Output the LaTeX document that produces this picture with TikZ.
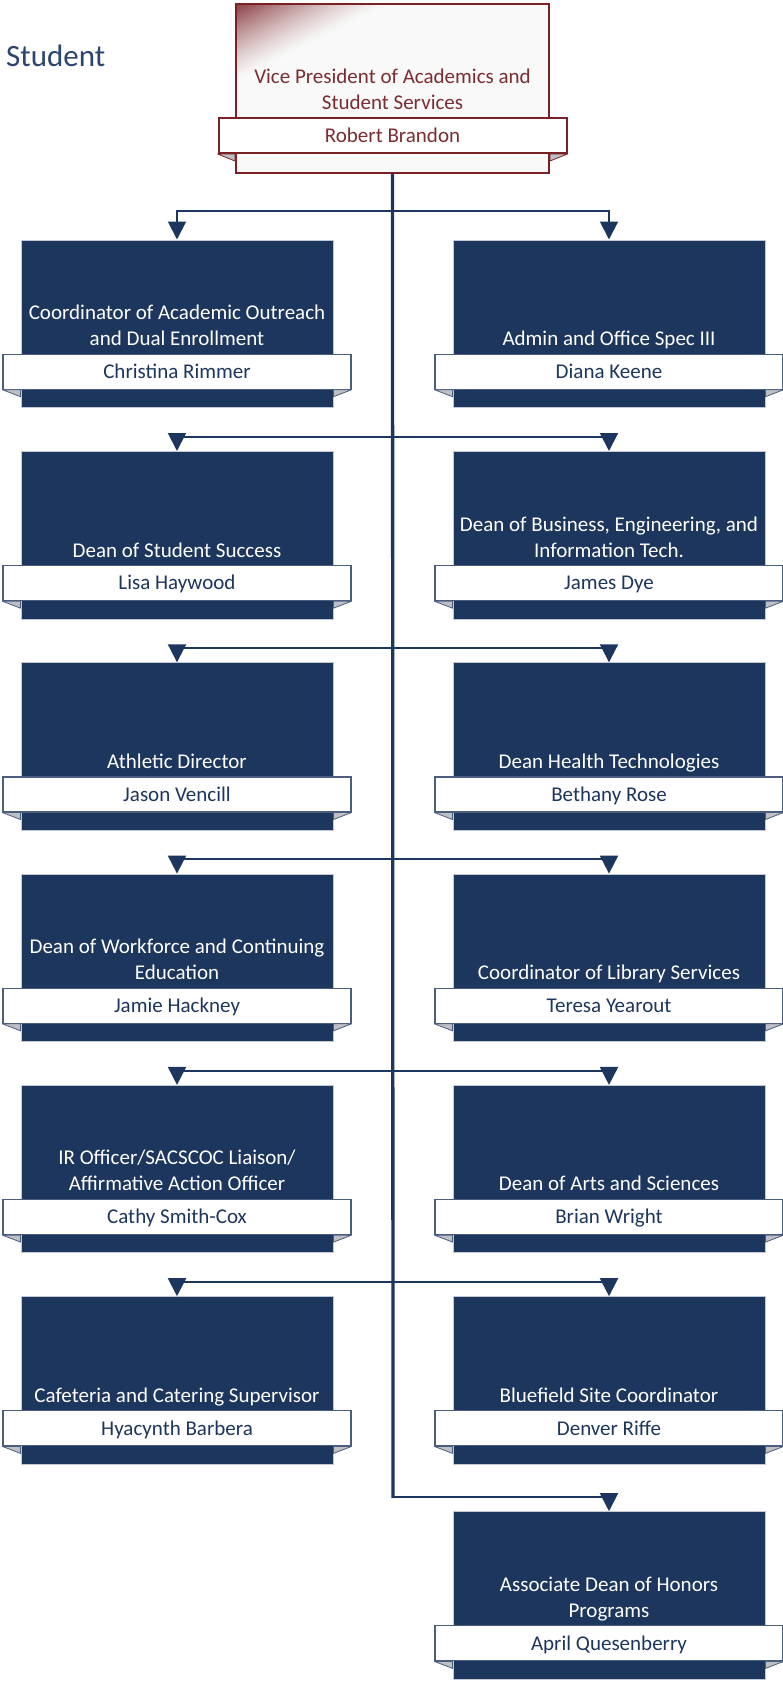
\documentclass[tikz,border=0pt]{standalone}
\usepackage{fontspec}
\setmainfont{Carlito}
\usepackage{xcolor}
\usetikzlibrary{arrows.meta,positioning}
\definecolor{navy}{HTML}{1D365D}
\definecolor{headnavy}{HTML}{2B4470}
\definecolor{cardedge}{HTML}{C3C9D2}
\definecolor{bandedge}{HTML}{4B5E7E}
\definecolor{foldgrey}{HTML}{BDBFC4}
\definecolor{vpred}{HTML}{7A2126}
\definecolor{vptext}{HTML}{7B2D31}
\definecolor{vpback}{HTML}{F9F9F9}
\tikzstyle{card}=[
        draw = cardedge,
        line width = 1pt,
        fill = navy,
        minimum width = 312pt,
        minimum height = 167.5pt,
        inner sep = 0pt
    ]
\tikzstyle{band}=[
        draw = bandedge,
        line width = 1.2pt,
        fill = white,
        text = navy,
        minimum width = 348pt,
        minimum height = 35pt,
        text height = 13.5pt,
        text depth = 0pt,
        inner sep = 0pt,
        font = \fontsize{21}{26}\selectfont
    ]
\tikzstyle{title}=[
        text = white,
        align = center,
        inner sep = 0pt,
        font = \fontsize{21}{26}\selectfont
    ]
\tikzstyle{fold}=[
        fill = foldgrey,
        draw = bandedge,
        line width = 0.8pt,
        line join = round
    ]
\tikzstyle{vpbox}=[
        card,
        draw = vpred,
        line width = 2pt,
        fill = vpback,
        minimum width = 313pt,
        minimum height = 169pt
    ]
\tikzstyle{vpband}=[band, draw = vpred, line width = 2pt, text = vptext]
\tikzstyle{vpfold}=[fold, draw = vpred]
\tikzstyle{link}=[
        draw = navy,
        line width = 2pt,
        -{Triangle[width=18pt, length=18pt]}
    ]
\tikzstyle{spine}=[draw = navy, line width = 3.3pt]

\begin{document}
\begin{tikzpicture}[x=1pt, y=-1pt]
    \useasboundingbox (0,0) rectangle (783,1681);

    \node[anchor = west, inner sep = 0pt, text = headnavy, font = \fontsize{31}{36}\selectfont] (dept) at (6,56) {Student};

    % top box, with the glow in its corner
    \node[vpbox] (vp) at (392.5,88.5) {};
    \begin{scope}
        \clip ([shift={(2pt,-2pt)}]vp.north west) rectangle ([shift={(-2pt,2pt)}]vp.south east);
        \begin{scope}[shift = {(vp.north west)}, rotate = -63]
            \foreach \k in {0,...,34} {
                \pgfmathsetmacro\pct{88*(1-\k/35)^1.3}
                \fill[vpred!\pct!vpback] (2*\k,-250) rectangle (2*\k+2.4,250);
            }
        \end{scope}
    \end{scope}
    \node[vpband, below = 114pt of vp.north] (vpn) {Robert Brandon};
    \node[title, text = vptext, above = 0pt of vpn] (vpt) {Vice President of Academics and\\Student Services\strut};
    \filldraw[vpfold] (vpn.south west) -- (vp.west |- vpn.south) -- ++(0,7) -- cycle;
    \filldraw[vpfold] (vpn.south east) -- (vp.east |- vpn.south) -- ++(0,7) -- cycle;

    % cards
    \node[card] (c1) at (177,323.75) {};
    \node[band, below = 114pt of c1.north] (n1) {Christina Rimmer};
    \node[title, above = 0pt of n1] (t1) {Coordinator of Academic Outreach\\and Dual Enrollment\strut};
    \node[card] (c2) at (609,323.75) {};
    \node[band, below = 114pt of c2.north] (n2) {Diana Keene};
    \node[title, above = 0pt of n2] (t2) {Admin and Office Spec III\strut};

    \node[card] (c3) at (177,535.25) {};
    \node[band, below = 114pt of c3.north] (n3) {Lisa Haywood};
    \node[title, above = 0pt of n3] (t3) {Dean of Student Success\strut};
    \node[card] (c4) at (609,535.25) {};
    \node[band, below = 114pt of c4.north] (n4) {James Dye};
    \node[title, above = 0pt of n4] (t4) {Dean of Business, Engineering, and\\Information Tech.\strut};

    \node[card] (c5) at (177,746.55) {};
    \node[band, below = 114pt of c5.north] (n5) {Jason Vencill};
    \node[title, above = 0pt of n5] (t5) {Athletic Director\strut};
    \node[card] (c6) at (609,746.55) {};
    \node[band, below = 114pt of c6.north] (n6) {Bethany Rose};
    \node[title, above = 0pt of n6] (t6) {Dean Health Technologies\strut};

    \node[card] (c7) at (177,957.85) {};
    \node[band, below = 114pt of c7.north] (n7) {Jamie Hackney};
    \node[title, above = 0pt of n7] (t7) {Dean of Workforce and Continuing\\Education\strut};
    \node[card] (c8) at (609,957.85) {};
    \node[band, below = 114pt of c8.north] (n8) {Teresa Yearout};
    \node[title, above = 0pt of n8] (t8) {Coordinator of Library Services\strut};

    \node[card] (c9) at (177,1169.15) {};
    \node[band, below = 114pt of c9.north] (n9) {Cathy Smith-Cox};
    \node[title, above = 0pt of n9] (t9) {IR Officer/SACSCOC Liaison/\\Affirmative Action Officer\strut};
    \node[card] (c10) at (609,1169.15) {};
    \node[band, below = 114pt of c10.north] (n10) {Brian Wright};
    \node[title, above = 0pt of n10] (t10) {Dean of Arts and Sciences\strut};

    \node[card] (c11) at (177,1380.45) {};
    \node[band, below = 114pt of c11.north] (n11) {Hyacynth Barbera};
    \node[title, above = 0pt of n11] (t11) {Cafeteria and Catering Supervisor\strut};
    \node[card] (c12) at (609,1380.45) {};
    \node[band, below = 114pt of c12.north] (n12) {Denver Riffe};
    \node[title, above = 0pt of n12] (t12) {Bluefield Site Coordinator\strut};

    \node[card] (c13) at (609,1595.45) {};
    \node[band, below = 114pt of c13.north] (n13) {April Quesenberry};
    \node[title, above = 0pt of n13] (t13) {Associate Dean of Honors\\Programs\strut};

    \foreach \i in {1,...,13} {
        \filldraw[fold] (n\i.south west) -- (c\i.west |- n\i.south) -- ++(0,7) -- cycle;
        \filldraw[fold] (n\i.south east) -- (c\i.east |- n\i.south) -- ++(0,7) -- cycle;
    }

    % connectors
    \coordinate (j1) at (393,211);
    \coordinate (j2) at (393,436.5);
    \coordinate (j3) at (393,648);
    \coordinate (j4) at (393,859);
    \coordinate (j5) at (393,1070.5);
    \coordinate (j6) at (393,1282);
    \coordinate (j7) at (393,1497);
    \draw[spine] (vp.south) -- ([yshift=-1pt]j7);
    \draw[link] (j1) -| (c1.north);
    \draw[link] (j1) -| (c2.north);
    \draw[link] (j2) -| (c3.north);
    \draw[link] (j2) -| (c4.north);
    \draw[link] (j3) -| (c5.north);
    \draw[link] (j3) -| (c6.north);
    \draw[link] (j4) -| (c7.north);
    \draw[link] (j4) -| (c8.north);
    \draw[link] (j5) -| (c9.north);
    \draw[link] (j5) -| (c10.north);
    \draw[link] (j6) -| (c11.north);
    \draw[link] (j6) -| (c12.north);
    \draw[link] (j7) -| (c13.north);
\end{tikzpicture}
\end{document}
